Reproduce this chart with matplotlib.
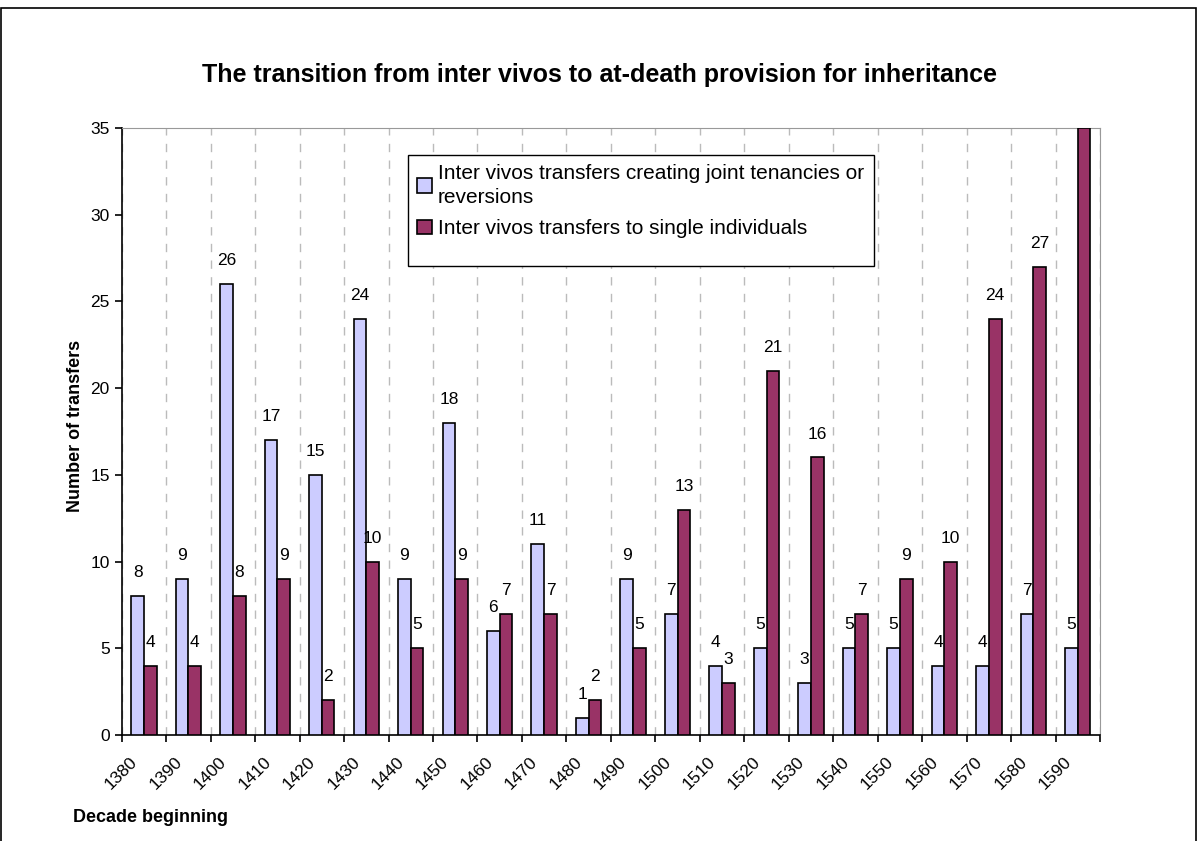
import numpy as np
import matplotlib.pyplot as plt
from matplotlib.patches import Rectangle

plt.rcParams['font.family'] = ['Liberation Sans', 'DejaVu Sans']

decades = [1380, 1390, 1400, 1410, 1420, 1430, 1440, 1450, 1460, 1470, 1480,
           1490, 1500, 1510, 1520, 1530, 1540, 1550, 1560, 1570, 1580, 1590]
joint = [8, 9, 26, 17, 15, 24, 9, 18, 6, 11, 1, 9, 7, 4, 5, 3, 5, 5, 4, 4, 7, 5]
single = [4, 4, 8, 9, 2, 10, 5, 9, 7, 7, 2, 5, 13, 3, 21, 16, 7, 9, 10, 24, 27, 35]

label_joint = "Inter vivos transfers creating joint tenancies or\nreversions"
label_single = "Inter vivos transfers to single individuals"

fig = plt.figure(figsize=(12, 8.41), dpi=100)
ax = fig.add_axes([0.1014, 0.126, 0.8153, 0.722])

# outer chart border
fig.patches.append(Rectangle((0.001, -0.1), 0.996, 1.09, transform=fig.transFigure,
                             fill=False, edgecolor='black', linewidth=1.2))

x = np.arange(len(decades))
w = 0.285
b1 = ax.bar(x - w / 2, joint, w, color='#CCCCFF', edgecolor='black', linewidth=1.2,
            label=label_joint, zorder=3)
b2 = ax.bar(x + w / 2, single, w, color='#993366', edgecolor='black', linewidth=1.2,
            label=label_single, zorder=3)

# value labels (ones above the plot area get clipped, like the original)
for bars, vals in [(b1, joint), (b2, single)]:
    for rect, v in zip(bars, vals):
        ax.text(rect.get_x() + rect.get_width() / 2, v + 1.35, str(v),
                ha='center', va='center', fontsize=12.5, clip_on=True, zorder=4)

ax.set_xlim(-0.5, len(decades) - 0.5)
ax.set_ylim(0, 35)
ax.set_yticks(range(0, 36, 5))
ax.tick_params(axis='y', labelsize=12.5, direction='out', length=5, width=1.2)

# boundaries as ticks (with dashed grid), decade labels drawn at category centres
ax.set_xticks(np.arange(len(decades) + 1) - 0.5)
ax.set_xticklabels([])
ax.tick_params(axis='x', which='major', direction='out', length=5, width=1.2)
ax.xaxis.grid(True, which='major', linestyle=(0, (6, 6)), color='#BBBBBB', linewidth=1)
ax.set_axisbelow(True)
for i, d in enumerate(decades):
    ax.text(i - 0.32, -1.1, str(d), rotation=45, ha='right', va='top',
            rotation_mode='anchor', fontsize=12.5)

ax.spines['left'].set_linewidth(1.2)
ax.spines['bottom'].set_linewidth(1.2)
ax.spines['top'].set_color('#999999')
ax.spines['right'].set_color('#999999')

fig.text(0.0625, 0.4935, "Number of transfers", rotation=90, ha='center', va='center',
         fontsize=13, fontweight='bold')
fig.text(0.061, 0.0285, "Decade beginning", ha='left', va='center',
         fontsize=13, fontweight='bold')
fig.text(0.5, 0.911, "The transition from inter vivos to at-death provision for inheritance",
         ha='center', va='center', fontsize=18, fontweight='bold')

# legend with a fixed frame
ax.add_patch(Rectangle((0.2927, 0.7725), 0.476, 0.183, transform=ax.transAxes,
                       facecolor='white', edgecolor='black', linewidth=1, zorder=5))
leg = ax.legend(loc='upper left', bbox_to_anchor=(0.2927, 0.9555), frameon=False,
                fontsize=15, handlelength=0.72, handleheight=0.72, handletextpad=0.25,
                borderpad=0.45, labelspacing=0.6, borderaxespad=0)
for t in leg.get_texts():
    t.set_linespacing(1.3)
leg.set_zorder(6)

fig.savefig("out.png", dpi=100)
